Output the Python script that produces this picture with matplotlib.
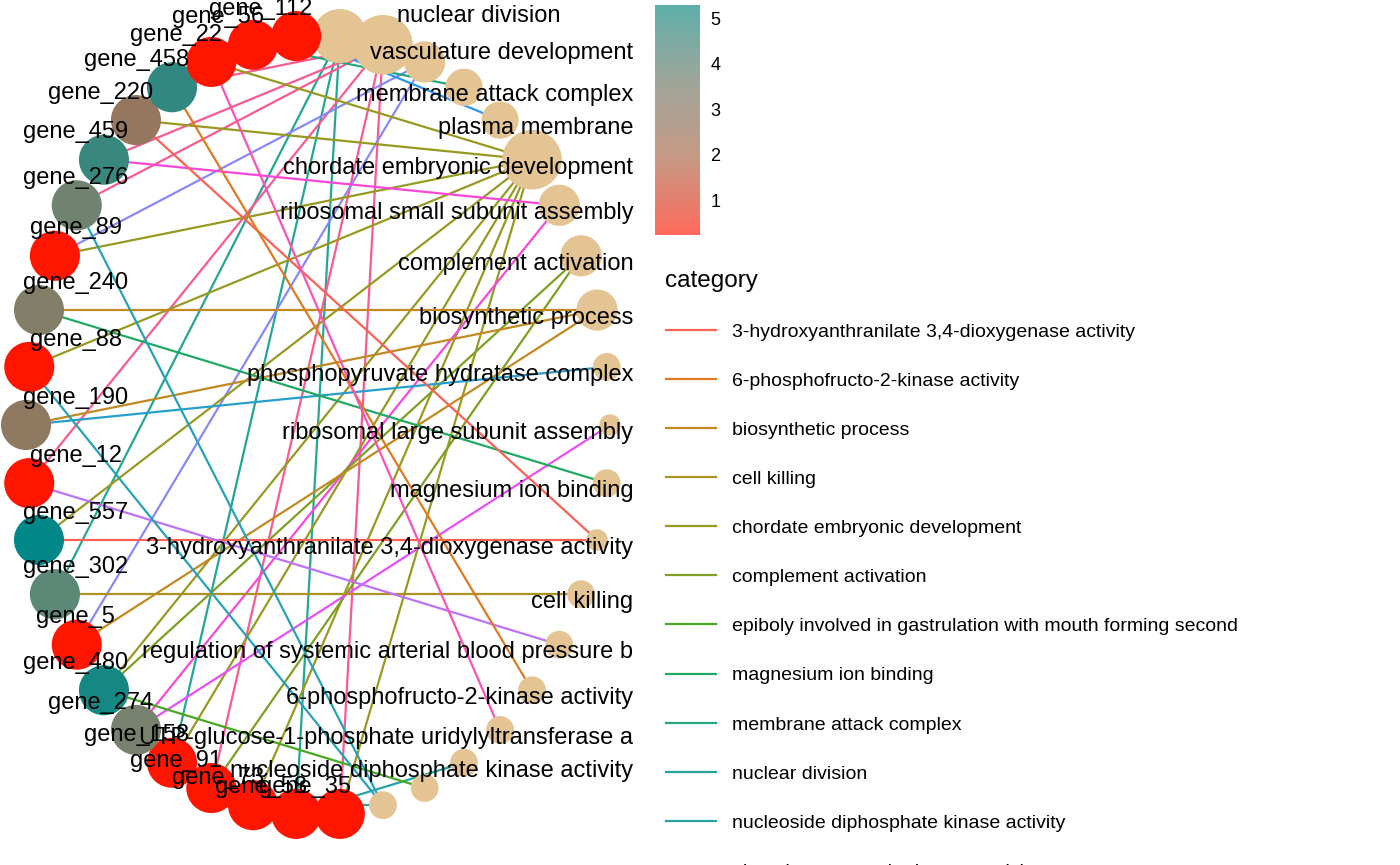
import numpy as np
import matplotlib
matplotlib.use("Agg")
import matplotlib.pyplot as plt
import seaborn as sns
from matplotlib.colors import LinearSegmentedColormap
from matplotlib.lines import Line2D

plt.rcParams['font.family'] = ['Liberation Sans', 'DejaVu Sans']

# categories clockwise from the top of the circle
categories = ["nuclear division", "vasculature development", "protein folding",
              "membrane attack complex", "plasma membrane",
              "chordate embryonic development", "ribosomal small subunit assembly",
              "complement activation", "biosynthetic process",
              "phosphopyruvate hydratase complex", "ribosomal large subunit assembly",
              "magnesium ion binding", "3-hydroxyanthranilate 3,4-dioxygenase activity",
              "cell killing", "regulation of systemic arterial blood pressure by",
              "6-phosphofructo-2-kinase activity",
              "UTP-glucose-1-phosphate uridylyltransferase activity",
              "nucleoside diphosphate kinase activity",
              "epiboly involved in gastrulation with mouth forming second",
              "phosphopyruvate hydratase activity"]
cat_labels = ["", "vasculature development", "", "membrane attack complex", "plasma membrane",
              "chordate embryonic development", "ribosomal small subunit assembly",
              "complement activation", "biosynthetic process",
              "phosphopyruvate hydratase complex", "ribosomal large subunit assembly",
              "magnesium ion binding", "3-hydroxyanthranilate 3,4-dioxygenase activity",
              "cell killing", "regulation of systemic arterial blood pressure b",
              "6-phosphofructo-2-kinase activity",
              "UTP-glucose-1-phosphate uridylyltransferase a",
              "nucleoside diphosphate kinase activity", "", ""]
cat_size = [9, 11, 5, 4, 4, 11, 5, 5, 5, 2, 1, 2, 1, 2, 2, 2, 2, 2, 2, 2]

# genes clockwise from the bottom of the circle
genes = ["gene_35", "gene_58", "gene_73", "gene_91", "gene_158", "gene_274", "gene_480",
         "gene_5", "gene_302", "gene_557", "gene_12", "gene_190", "gene_88", "gene_240",
         "gene_89", "gene_276", "gene_459", "gene_220", "gene_458", "gene_22",
         "gene_56", "gene_112"]
fold = [0.0, 0.0, 0.0, 0.0, 0.0, 3.3, 5.0, 0.0, 4.0, 5.3, 0.0, 2.6, 0.0, 3.0,
        0.0, 3.5, 4.5, 2.5, 4.6, 0.0, 0.0, 0.0]
links = [[1, 5], [0, 17], [5, 19], [1, 7], [0, 5], [6, 10], [5, 7, 18], [2, 8],
         [0, 13], [12, 5], [1, 14], [9, 8], [19, 5], [8, 11], [5, 2], [19, 1],
         [6, 1], [12, 5], [15, 1], [16, 0, 5], [1, 3], [0, 4]]

alpha_order = sorted(categories, key=str.lower)
pal = sns.husl_palette(len(categories), h=15 / 360, s=0.95, l=0.62)
cat_col = {c: pal[alpha_order.index(c)] for c in categories}

cmap = LinearSegmentedColormap.from_list("fc", ["#FF1500", "#C0603F", "#8E7A62", "#5F8878", "#008888"])
cbar_cmap = LinearSegmentedColormap.from_list("cb", ["#FF6A5C", "#C79A85", "#9FA69A", "#5FB0AA"])

fig = plt.figure(figsize=(14, 8.65), dpi=100)
ax = fig.add_axes([0, 0, 640 / 1400, 1])
ax.set_xlim(-318 / 292, 322 / 292)
ax.set_ylim(-440 / 390, 425 / 390)
ax.set_axis_off()

n = len(categories) + len(genes)
ang = np.deg2rad(90 - 360 * (np.arange(n) + 0.5) / n)
px, py = np.cos(ang), np.sin(ang)
cx, cy = px[:len(categories)], py[:len(categories)]
gx, gy = px[len(categories):], py[len(categories):]

for i, lk in enumerate(links):
    for j in lk:
        ax.plot([gx[i], cx[j]], [gy[i], cy[j]], color=cat_col[categories[j]], lw=1.6, zorder=1)

ax.scatter(cx, cy, s=[80 + 160 * v for v in cat_size], color="#E5C494", zorder=3, linewidths=0)
ax.scatter(gx, gy, s=1300, c=fold, cmap=cmap, vmin=0, vmax=5.3, zorder=3, linewidths=0)

for i, t in enumerate(cat_labels):
    if t:
        ax.text(1.08, cy[i] - 0.02, t, ha="right", va="center", fontsize=17, zorder=5)
ax.text(0.55, 1.05, "nuclear division", ha="center", va="center", fontsize=17, zorder=5)
for i, g in enumerate(genes):
    lx = max(gx[i] - 0.12, -0.83)
    ax.text(lx, gy[i] + 0.07, g, ha="center", va="center", fontsize=17, zorder=5)

# colour bar
cax = fig.add_axes([655 / 1400, 1 - 235 / 865, 45 / 1400, 230 / 865])
grad = np.linspace(0.23, 5.3, 200).reshape(-1, 1)
cax.imshow(grad, aspect="auto", origin="lower", cmap=cbar_cmap, extent=[0, 1, 0.23, 5.3])
cax.set_xticks([])
cax.yaxis.tick_right()
cax.set_yticks([1, 2, 3, 4, 5])
cax.tick_params(axis="y", length=4, color="white", labelsize=13)
for s in cax.spines.values():
    s.set_visible(False)

handles = [Line2D([0], [0], color=cat_col[c], lw=1.6) for c in alpha_order]
fig.legend(handles, alpha_order, loc="upper left", bbox_to_anchor=(648 / 1400, 1 - 252 / 865),
           frameon=False, fontsize=14, title="category", title_fontsize=17.5,
           alignment="left", labelspacing=1.62, handlelength=2.6)

fig.savefig("out.png")
